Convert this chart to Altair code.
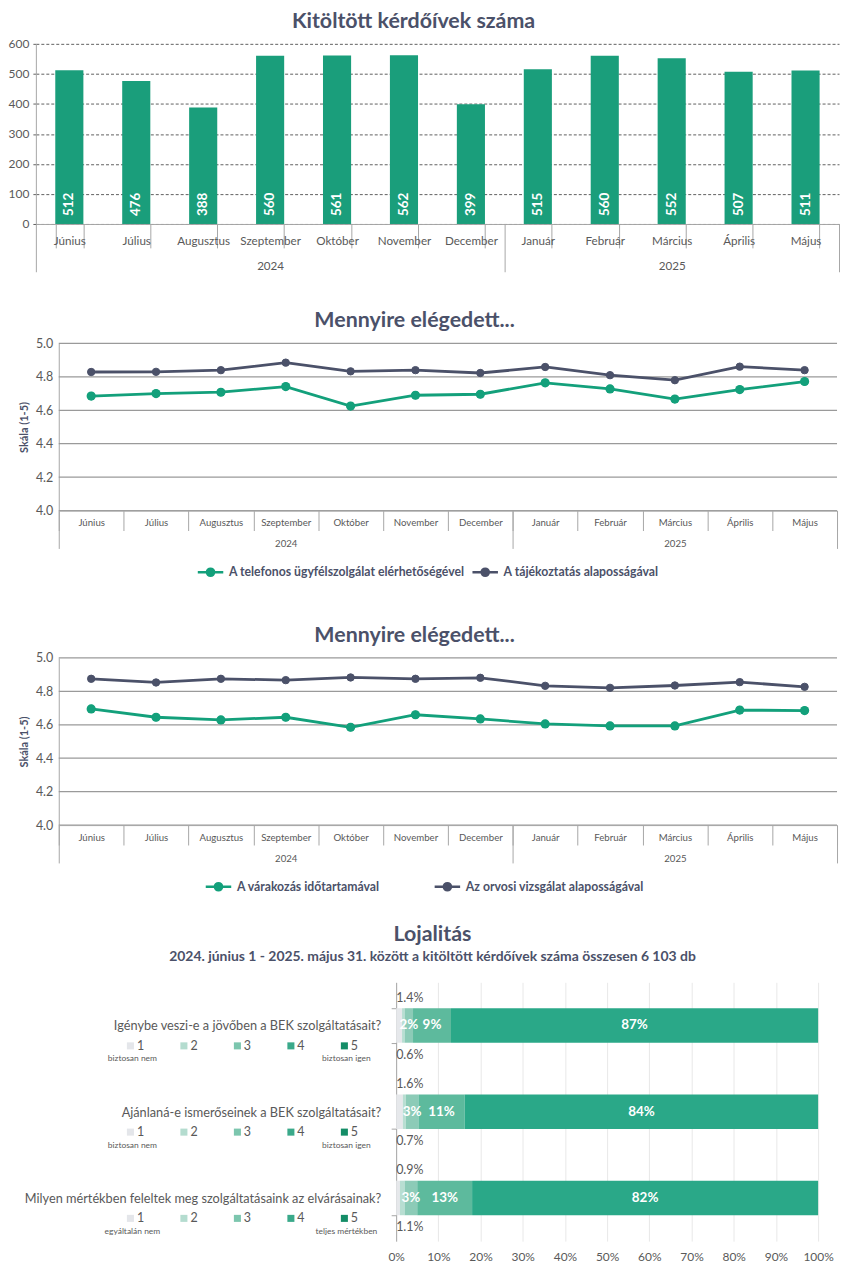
import altair as alt
import pandas as pd

FONT = "Lato"
SLATE = "#4b5169"
BAR_GREEN = "#1a9e7b"
LINE_GREEN = "#13a07b"
AX = "#a6a6a6"
TXT = "#595959"
W = 807

# ---------------- data ----------------
months = ["Június", "Július", "Augusztus", "Szeptember", "Október", "November",
          "December", "Január", "Február", "Március", "Április", "Május"]
years = ["2024"] * 7 + ["2025"] * 5
counts = [512, 476, 388, 560, 561, 562, 399, 515, 560, 552, 507, 511]
count_ticks = [0, 100, 200, 300, 400, 500, 600]

sat1_names = ["A telefonos ügyfélszolgálat elérhetőségével", "A tájékoztatás alaposságával"]
sat1_a = [4.685, 4.700, 4.708, 4.742, 4.625, 4.690, 4.696, 4.764, 4.728, 4.667, 4.724, 4.772]
sat1_b = [4.829, 4.830, 4.840, 4.885, 4.833, 4.840, 4.823, 4.859, 4.810, 4.780, 4.861, 4.840]
sat2_names = ["A várakozás időtartamával", "Az orvosi vizsgálat alaposságával"]
sat2_a = [4.695, 4.645, 4.629, 4.645, 4.585, 4.660, 4.635, 4.605, 4.593, 4.593, 4.688, 4.685]
sat2_b = [4.875, 4.853, 4.875, 4.867, 4.883, 4.875, 4.881, 4.833, 4.821, 4.835, 4.855, 4.827]
scale_ticks = [4.0, 4.2, 4.4, 4.6, 4.8, 5.0]

questions = ["Igénybe veszi-e a jövőben a BEK szolgáltatásait?",
             "Ajánlaná-e ismerőseinek a BEK szolgáltatásait?",
             "Milyen mértékben feleltek meg szolgáltatásaink az elvárásainak?"]
levels = ["1", "2", "3", "4", "5"]
shares_q1 = [1.4, 0.6, 2, 9, 87]
shares_q2 = [1.6, 0.7, 3, 11, 84]
shares_q3 = [0.9, 1.1, 3, 13, 82]
low_caps = ["biztosan nem", "biztosan nem", "egyáltalán nem"]
high_caps = ["biztosan igen", "biztosan igen", "teljes mértékben"]
pct_ticks = [0, 0.1, 0.2, 0.3, 0.4, 0.5, 0.6, 0.7, 0.8, 0.9, 1.0]
bar_colors = ["#e6e8eb", "#b8ded2", "#8ccbb7", "#5dba9d", "#2aa888"]
swatch_colors = ["#e4e6ea", "#b4dccf", "#7cc6ae", "#3aa98a", "#148d67"]
subtitle = "2024. június 1 - 2025. május 31. között a kitöltött kérdőívek száma összesen 6 103 db"

# ---------------- helpers ----------------
bounds = [0] + [i for i in range(1, len(years)) if years[i] != years[i - 1]] + [len(years)]
year_names = [years[b] for b in bounds[:-1]]
mids = [(a + b) / 2 for a, b in zip(bounds[:-1], bounds[1:])]
year_expr = f"'{year_names[-1]}'"
for b, nm in reversed(list(zip(bounds[1:-1], year_names[:-1]))):
    year_expr = f"datum.value < {b} ? '{nm}' : {year_expr}"


def month_x(xr, pad, tick, lab_pad, lab_size, band_pos=None, with_axis=True):
    kw = {}
    if band_pos is not None:
        kw["bandPosition"] = band_pos
    if with_axis:
        ax = alt.Axis(orient="bottom", labelAngle=0, tickBand="extent", tickSize=tick,
                      tickColor=AX, domainColor=AX, labelPadding=lab_pad,
                      labelFontSize=lab_size, labelColor=TXT, grid=False, zindex=1)
    else:
        ax = None
    return alt.X("month:N", title=None,
                 scale=alt.Scale(type="band", domain=months, range=xr,
                                 paddingInner=pad, paddingOuter=pad / 2),
                 axis=ax, **kw)


def qscale(xr):
    return alt.Scale(domain=[0, len(months)], range=xr, nice=False, zero=False)


def sep_axis(size):
    return alt.Axis(orient="bottom", values=bounds, labels=False, domain=False, grid=False,
                    tickSize=size, tickColor=AX)


def year_label_layer(xr, lab_pad, lab_size, ydef, pad_title=False):
    ax = dict(orient="bottom", values=mids, labelExpr=year_expr, ticks=False, domain=False,
              grid=False, labelPadding=lab_pad, labelFontSize=lab_size, labelColor=TXT,
              labelFlush=False)
    if pad_title:
        ax.update(titleFontSize=4, titlePadding=5)
    return alt.Chart(pd.DataFrame({"m": mids})).mark_point(opacity=0).encode(
        x=alt.X("m:Q", scale=qscale(xr), title=(" " if pad_title else None), axis=alt.Axis(**ax)),
        y=ydef)


def title(text, dx, offset, **kw):
    return alt.TitleParams(text, fontSize=21.5, fontWeight="bold", color=SLATE, anchor="middle",
                           frame="group", dx=dx, offset=offset, font=FONT, **kw)


# ---------------- panel 1: bars ----------------
df1 = pd.DataFrame({"month": months, "year": years, "count": counts})
XR1 = [0, W]
y1_scale = alt.Scale(domain=[0, 600], nice=False)
y1_axis = alt.Axis(values=count_ticks, grid=True, gridDash=[3, 2], gridColor="#606060",
                   gridWidth=1, domainColor=AX, tickSize=3, tickColor="#606060",
                   labelPadding=4, labelFontSize=12, labelColor=TXT)
y1 = alt.Y("count:Q", title=None, scale=y1_scale, axis=y1_axis)
y1_zero = alt.YDatum(0, type="quantitative", title=None, scale=y1_scale, axis=y1_axis)
bars1 = alt.Chart(df1).mark_bar(color=BAR_GREEN).encode(
    x=month_x(XR1, 0.58, 24, -12, 11.7), y=y1)
blab1 = alt.Chart(df1).mark_text(angle=270, align="left", baseline="middle", dx=8,
                                 color="white", fontWeight="bold", fontSize=13.5, font=FONT).encode(
    x=month_x(XR1, 0.58, 24, -12, 11.7, 0.5, with_axis=False), y=y1_zero,
    text=alt.Text("count:Q"))
sep1 = alt.Chart(pd.DataFrame({"b": bounds})).mark_point(opacity=0).encode(
    x=alt.X("b:Q", scale=qscale(XR1), title=None, axis=sep_axis(48)), y=y1_zero)
p1 = alt.layer(bars1, blab1, sep1, year_label_layer(XR1, 37, 11.7, y1_zero, True)).resolve_scale(
    x="independent").properties(width=W, height=181, title=title("Kitöltött kérdőívek száma", -24, 5))

# ---------------- panels 2,3: lines ----------------
PATH = "M-1.6,0L1.6,0M0.45,0A0.45,0.45,0,1,1,-0.45,0A0.45,0.45,0,1,1,0.45,0Z"


def sat_panel(names, sa, sb, legend_x, legend_y, col_pad, legend_pad, t_offset):
    df = pd.DataFrame({"month": months * 2,
                       "series": [names[0]] * len(months) + [names[1]] * len(months),
                       "v": sa + sb})
    xr = [23, W - 2]
    cscale = alt.Scale(domain=names, range=[LINE_GREEN, SLATE])
    ys_scale = alt.Scale(domain=[4, 5], nice=False, zero=False)
    ys_axis = alt.Axis(offset=-23, grid=False, values=scale_ticks, format=".1f", ticks=False,
                       labelPadding=6, domainColor=AX, labelFontSize=12.5, labelColor=TXT,
                       titleFontSize=11, titleFontWeight="bold", titleColor=SLATE,
                       titlePadding=6)
    ys = alt.Y("v:Q", title="Skála (1-5)", scale=ys_scale, axis=ys_axis)
    ys_d = alt.YDatum(4, type="quantitative", title="Skála (1-5)", scale=ys_scale, axis=ys_axis)
    leg = alt.Legend(orient="none", legendX=legend_x - legend_pad, legendY=legend_y - legend_pad,
                     direction="horizontal", title=None, symbolType=PATH, symbolSize=256,
                     symbolStrokeWidth=2.5, labelFont=FONT, labelFontSize=12.3,
                     labelFontWeight="bold", labelColor=SLATE, labelOffset=9,
                     columnPadding=col_pad, padding=legend_pad, labelLimit=400)
    grid = alt.Chart(pd.DataFrame({"v": scale_ticks})).mark_rule(color="#9a9a9a", strokeWidth=1.3).encode(
        x=alt.XDatum(0, type="quantitative", scale=qscale(xr), title=None, axis=sep_axis(38)),
        x2=alt.X2Datum(len(months)), y=ys)
    lines = []
    for nm, col in zip(names, [LINE_GREEN, SLATE]):
        lines.append(alt.Chart(df).transform_filter(alt.datum.series == nm).mark_line(
            strokeWidth=2.8, color=col).encode(
            x=month_x(xr, 0, 20, -13, 9.7, 0.5, with_axis=(nm == names[0])), y=ys))
    pts = alt.Chart(df).mark_point(filled=True, opacity=1, strokeWidth=1, size=55).encode(
        x=month_x(xr, 0, 20, -13, 9.7, 0.5, with_axis=False), y=ys,
        fill=alt.Fill("series:N", scale=cscale, legend=leg),
        stroke=alt.Stroke("series:N", scale=cscale, legend=leg))
    big = alt.Chart(df).transform_filter(alt.datum.series == names[0]).mark_point(
        filled=True, opacity=1, size=85, color=LINE_GREEN).encode(
        x=month_x(xr, 0, 20, -13, 9.7, 0.5, with_axis=False), y=ys)
    return alt.layer(grid, *lines, pts, big, year_label_layer(xr, 28.5, 9.7, ys_d)).resolve_scale(
        x="independent").properties(width=W, height=168,
                                    title=title("Mennyire elégedett...", -23, t_offset))


p2 = sat_panel(sat1_names, sat1_a, sat1_b, 166, 220, 2, 16, 6)
p3 = sat_panel(sat2_names, sat2_a, sat2_b, 174, 220, 49, 0, 5)

# ---------------- panel 4: loyalty ----------------
rows = []
for q, sh in zip(questions, [shares_q1, shares_q2, shares_q3]):
    for lv, s in zip(levels, sh):
        rows.append({"q": q, "lev": lv, "level": int(lv), "share": s})
df4 = pd.DataFrame(rows)
XR4 = [362, 786]


def bx():
    return alt.Scale(domain=[0, 1], range=XR4, nice=False, zero=False)


y4 = alt.Y("q:N", title=None,
           scale=alt.Scale(type="band", domain=questions, paddingInner=0.6, paddingOuter=0.3),
           axis=alt.Axis(offset=-362, labels=False, tickBand="extent", tickSize=5, tickColor=AX,
                         domainColor=AX, grid=False))
bars4 = alt.Chart(df4).mark_bar().encode(
    x=alt.X("share:Q", stack="normalize", scale=bx(), title=None,
            axis=alt.Axis(values=pct_ticks, format=".0%", grid=True, gridColor="#e8e8e8",
                          domain=False, ticks=False, labelPadding=10, labelFontSize=12,
                          labelColor=TXT, labelFlush=False)),
    y=y4,
    color=alt.Color("lev:N", scale=alt.Scale(domain=levels, range=bar_colors), legend=None),
    order=alt.Order("level:Q"))

base4 = alt.Chart(df4).transform_joinaggregate(
    total="sum(share)", groupby=["q"]).transform_window(
    cum="sum(share)", groupby=["q"], sort=[alt.SortField("level")], frame=[None, 0]).transform_calculate(
    mid="(datum.cum - datum.share / 2) / datum.total")
lab_in = base4.transform_filter("datum.level >= 3").transform_calculate(
    txt="format(datum.share, '.0f') + '%'").mark_text(
    color="white", fontWeight="bold", fontSize=13.5, font=FONT, baseline="middle").encode(
    x=alt.X("mid:Q", scale=bx(), title=None, axis=None), y=y4, text="txt:N")
lab_1 = base4.transform_filter("datum.level == 1").transform_calculate(
    txt="format(datum.share, '.1f') + '%'").mark_text(
    color=TXT, fontSize=12.5, font=FONT, align="left", baseline="middle", dy=-28).encode(
    x=alt.XDatum(0, type="quantitative", scale=bx(), axis=None), y=y4, text="txt:N")
lab_2 = base4.transform_filter("datum.level == 2").transform_calculate(
    txt="format(datum.share, '.1f') + '%'").mark_text(
    color=TXT, fontSize=12.5, font=FONT, align="left", baseline="middle", dy=29.5).encode(
    x=alt.XDatum(0, type="quantitative", scale=bx(), axis=None), y=y4, text="txt:N")


def lx():
    return alt.Scale(domain=[0, 6], range=[41.25, 363.75], nice=False, zero=False)


dq = pd.DataFrame({"q": questions, "low": low_caps, "high": high_caps})
dsw = pd.DataFrame([{"q": q, "lev": lv, "pos": int(lv)} for q in questions for lv in levels])
qtext = alt.Chart(dq).mark_text(align="right", baseline="middle", dx=37, dy=1, fontSize=12.8,
                                color=TXT, font=FONT).encode(
    x=alt.XDatum(5, type="quantitative", scale=lx(), axis=None), y=y4, text="q:N")
sw = alt.Chart(dsw).mark_square(size=50, yOffset=20.5, opacity=1).encode(
    x=alt.X("pos:Q", scale=lx(), axis=None), y=y4,
    fill=alt.Fill("lev:N", scale=alt.Scale(domain=levels, range=swatch_colors), legend=None))
nums = alt.Chart(dsw).mark_text(align="left", baseline="middle", dx=6.5, dy=20.5, fontSize=12.5,
                                color=TXT, font=FONT).encode(
    x=alt.X("pos:Q", scale=lx(), axis=None), y=y4, text="lev:N")
cap_lo = alt.Chart(dq).mark_text(align="center", baseline="middle", dx=2, dy=33, fontSize=8.5,
                                 color=TXT, font=FONT).encode(
    x=alt.XDatum(1, type="quantitative", scale=lx(), axis=None), y=y4, text="low:N")
cap_hi = alt.Chart(dq).mark_text(align="center", baseline="middle", dx=2, dy=33, fontSize=8.5,
                                 color=TXT, font=FONT).encode(
    x=alt.XDatum(5, type="quantitative", scale=lx(), axis=None), y=y4, text="high:N")

p4 = alt.layer(bars4, lab_in, lab_1, lab_2, qtext, sw, nums, cap_lo, cap_hi).resolve_scale(
    x="independent").properties(
    width=W, height=260,
    title=title("Lojalitás", -5, 18, subtitle=subtitle, subtitleFontSize=14,
                subtitleFontWeight="bold", subtitleColor=SLATE, subtitlePadding=5,
                subtitleFont=FONT))

chart = alt.vconcat(p1, p2, p3, p4, spacing=28).resolve_scale(
    color="independent", fill="independent", stroke="independent").properties(
    padding=0, background="white").configure_view(stroke=None).configure_axis(
    labelFont=FONT, titleFont=FONT).configure_legend(labelFont=FONT)

chart.save("out.html", embed_options={"renderer": "svg", "actions": False})
